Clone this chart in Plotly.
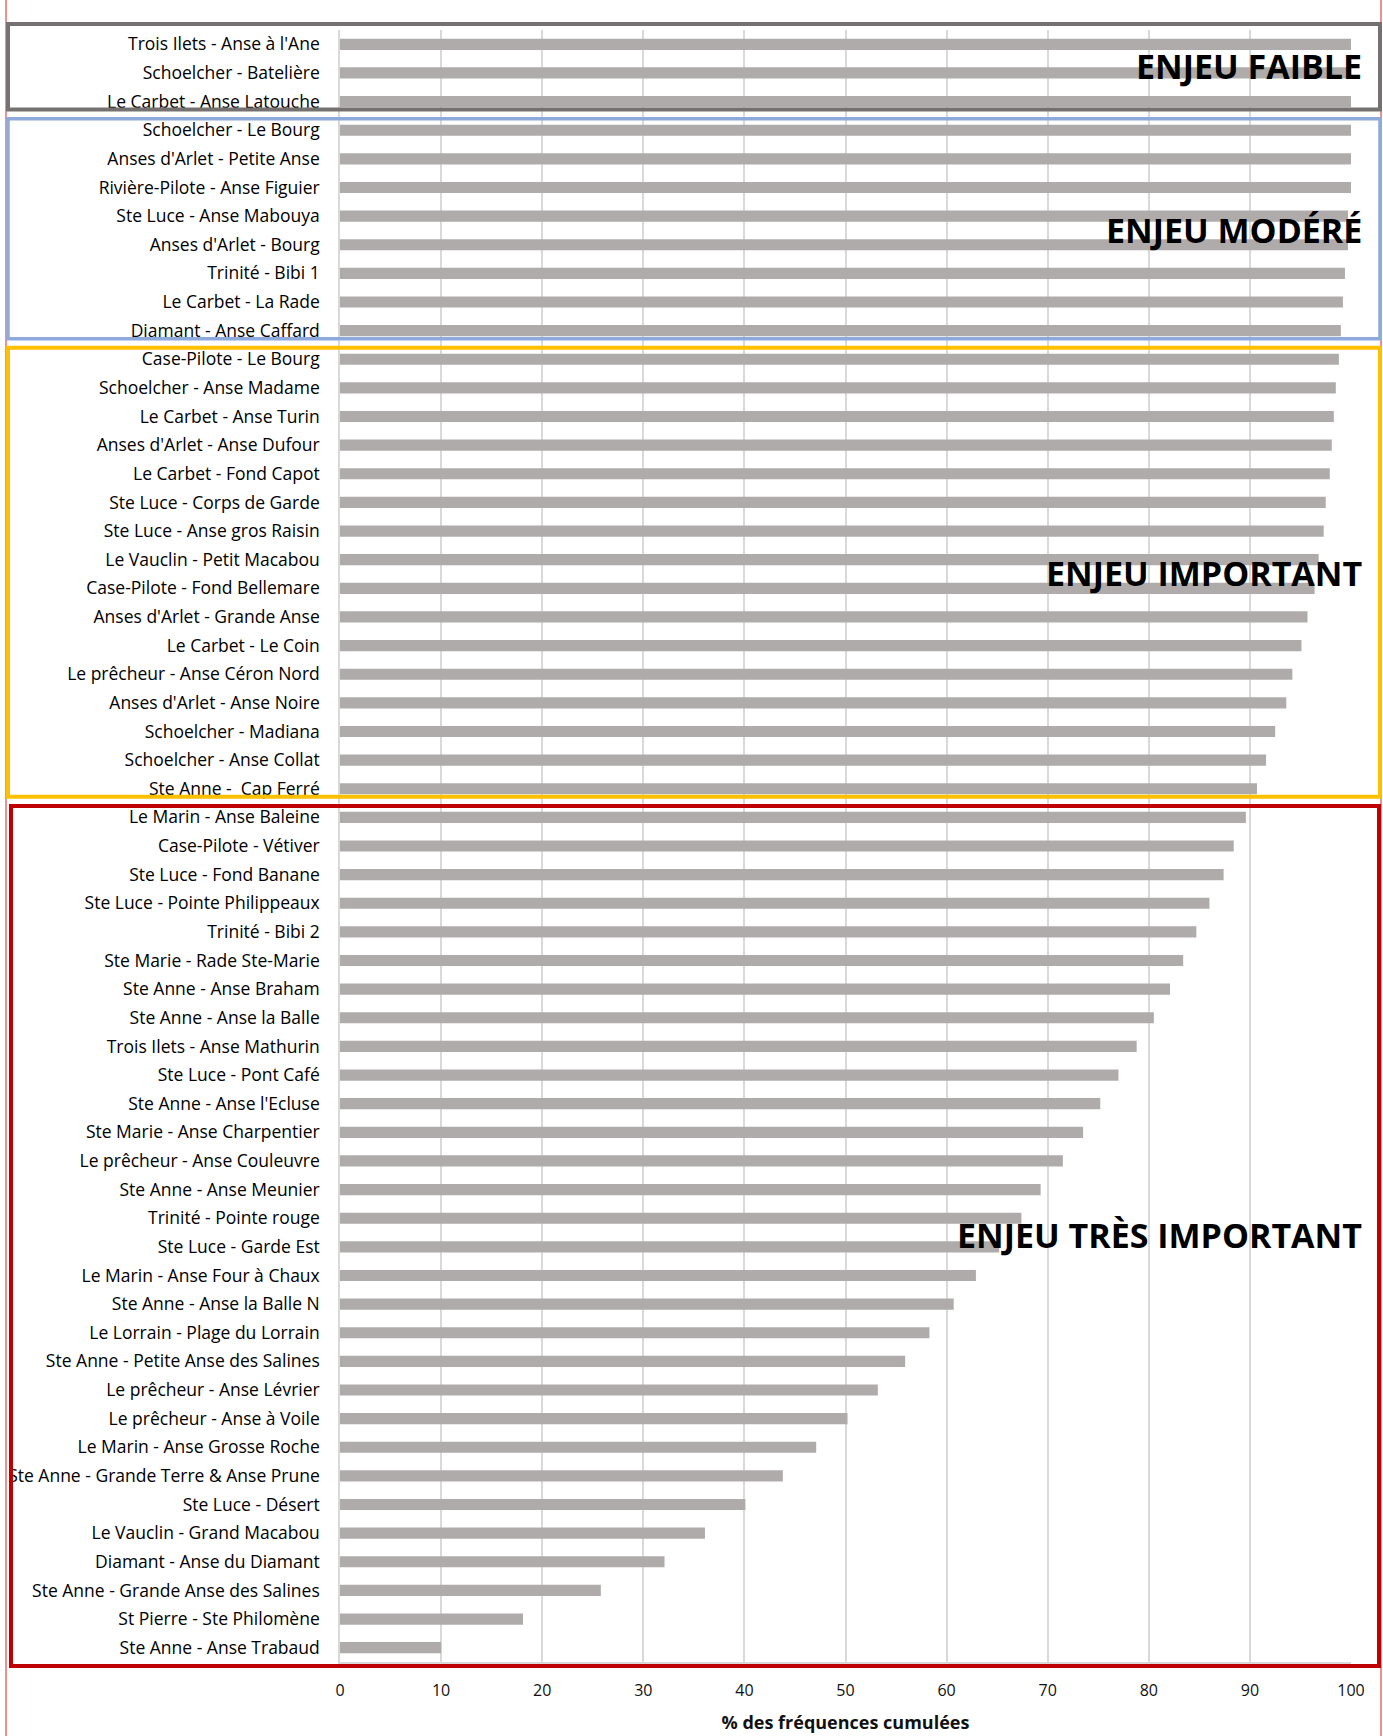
import plotly.graph_objects as go

categories = [
    "Trois Ilets - Anse à l'Ane",
    "Schoelcher - Batelière",
    "Le Carbet - Anse Latouche",
    "Schoelcher - Le Bourg",
    "Anses d'Arlet - Petite Anse",
    "Rivière-Pilote - Anse Figuier",
    "Ste Luce - Anse Mabouya",
    "Anses d'Arlet - Bourg",
    "Trinité - Bibi 1",
    "Le Carbet - La Rade",
    "Diamant - Anse Caffard",
    "Case-Pilote - Le Bourg",
    "Schoelcher - Anse Madame",
    "Le Carbet - Anse Turin",
    "Anses d'Arlet - Anse Dufour",
    "Le Carbet - Fond Capot",
    "Ste Luce - Corps de Garde",
    "Ste Luce - Anse gros Raisin",
    "Le Vauclin - Petit Macabou",
    "Case-Pilote - Fond Bellemare",
    "Anses d'Arlet - Grande Anse",
    "Le Carbet - Le Coin",
    "Le prêcheur - Anse Céron Nord",
    "Anses d'Arlet - Anse Noire",
    "Schoelcher - Madiana",
    "Schoelcher - Anse Collat",
    "Ste Anne -  Cap Ferré",
    "Le Marin - Anse Baleine",
    "Case-Pilote - Vétiver",
    "Ste Luce - Fond Banane",
    "Ste Luce - Pointe Philippeaux",
    "Trinité - Bibi 2",
    "Ste Marie - Rade Ste-Marie",
    "Ste Anne - Anse Braham",
    "Ste Anne - Anse la Balle",
    "Trois Ilets - Anse Mathurin",
    "Ste Luce - Pont Café",
    "Ste Anne - Anse l'Ecluse",
    "Ste Marie - Anse Charpentier",
    "Le prêcheur - Anse Couleuvre",
    "Ste Anne - Anse Meunier",
    "Trinité - Pointe rouge",
    "Ste Luce - Garde Est",
    "Le Marin - Anse Four à Chaux",
    "Ste Anne - Anse la Balle N",
    "Le Lorrain - Plage du Lorrain",
    "Ste Anne - Petite Anse des Salines",
    "Le prêcheur - Anse Lévrier",
    "Le prêcheur - Anse à Voile",
    "Le Marin - Anse Grosse Roche",
    "Ste Anne - Grande Terre & Anse Prune",
    "Ste Luce - Désert",
    "Le Vauclin - Grand Macabou",
    "Diamant - Anse du Diamant",
    "Ste Anne - Grande Anse des Salines",
    "St Pierre - Ste Philomène",
    "Ste Anne - Anse Trabaud",
]

values = [
    100, 100, 100, 100, 100, 100, 99.7, 99.7, 99.4, 99.2, 99.0,
    98.8, 98.5, 98.3, 98.1, 97.9, 97.5, 97.3, 96.8, 96.4, 95.7, 95.1,
    94.2, 93.6, 92.5, 91.6, 90.7,
    89.6, 88.4, 87.4, 86.0, 84.7, 83.4, 82.1, 80.5, 78.8, 77.0, 75.2,
    73.5, 71.5, 69.3, 67.4, 65.2, 62.9, 60.7, 58.3, 55.9, 53.2, 50.2,
    47.1, 43.8, 40.1, 36.1, 32.1, 25.8, 18.1, 10.0,
]

group_names = ["ENJEU FAIBLE", "ENJEU MODÉRÉ", "ENJEU IMPORTANT", "ENJEU TRÈS IMPORTANT"]
group_first = [0, 3, 11, 27]
group_last = [2, 10, 26, 56]
group_label_rows = [0.76, 6.47, 18.48, 41.58]

x_ticks = [0, 10, 20, 30, 40, 50, 60, 70, 80, 90, 100]
x_title = "% des fréquences cumulées"

# ---------------- layout geometry (pixels) ----------------
W, H = 1383, 1736
PL, PR, PT, PB = 340, 1351, 30, 1662   # plot area edges
group_colors = ["#767171", "#8EA9DB", "#FFC000", "#C00000"]
group_line_w = [4, 3.5, 4, 4]
n = len(categories)
row_px = (PB - PT) / n


def px_x(px):
    return (px - PL) / (PR - PL)


def px_y(py):
    return (PB - py) / (PB - PT)


def row_y(r):
    # row index (category index, fractional) -> pixel
    return PT + (r + 0.5) * row_px


fig = go.Figure()
fig.add_trace(go.Bar(
    x=values,
    y=categories,
    orientation="h",
    width=0.39,
    marker=dict(color="#AFABAB", line=dict(width=0)),
    hoverinfo="x+y",
))

shapes = []
# thin red page frame lines
for xp in (6, 1381):
    shapes.append(dict(type="line", xref="paper", yref="paper",
                       x0=px_x(xp), x1=px_x(xp), y0=px_y(0), y1=px_y(H),
                       line=dict(color="#E02020", width=1), layer="below"))

for i, (f, l) in enumerate(zip(group_first, group_last)):
    top = row_y(f - 0.4)
    bot = row_y(l + 0.28)
    if i == 0:
        top = 24
    if i == len(group_first) - 1:
        bot = PB + 4
    left = 11 if i == len(group_first) - 1 else 8
    right = 1379 if i == len(group_first) - 1 else 1380
    shapes.append(dict(type="rect", xref="paper", yref="paper",
                       x0=px_x(left), x1=px_x(right), y0=px_y(bot), y1=px_y(top),
                       line=dict(color=group_colors[i], width=group_line_w[i]),
                       fillcolor="rgba(0,0,0,0)", layer="above"))

annotations = []
for name, r in zip(group_names, group_label_rows):
    annotations.append(dict(
        text="<b>%s</b>" % name, xref="paper", yref="paper",
        x=px_x(1364), y=px_y(row_y(r)), xanchor="right", yanchor="middle",
        showarrow=False, font=dict(family="Open Sans", size=34, color="#000000"),
    ))

fig.update_layout(
    width=W, height=H,
    margin=dict(l=PL, r=W - PR, t=PT, b=H - PB, pad=0, autoexpand=False),
    paper_bgcolor="white", plot_bgcolor="white",
    showlegend=False,
    shapes=shapes,
    annotations=annotations,
    font=dict(family="Open Sans", color="#111111"),
)
fig.update_xaxes(
    range=[0, 100], tickvals=x_ticks, ticktext=[str(t) for t in x_ticks],
    showgrid=True, gridcolor="#D9D9D9", gridwidth=1.5,
    zeroline=False, showline=True, linecolor="#D9D9D9", linewidth=1.5,
    ticks="", ticklabelstandoff=13, automargin=False,
    tickfont=dict(family="Open Sans", size=16, color="#111111"),
    title=dict(text="<b>%s</b>" % x_title, standoff=16,
               font=dict(family="Open Sans", size=18, color="#111111")),
    fixedrange=True,
)
fig.update_yaxes(
    categoryorder="array", categoryarray=categories,
    range=[n - 0.5, -0.5], automargin=False,
    showgrid=False, zeroline=False, showline=True, linecolor="#D9D9D9", linewidth=1.5,
    ticks="", ticklabelstandoff=15,
    tickfont=dict(family="Open Sans", size=17.5, color="#000000"),
    fixedrange=True,
)

fig.write_html(
    "out.html",
    config={"displayModeBar": False},
    post_script="document.body.style.margin='0';document.body.style.overflow='hidden';",
)
